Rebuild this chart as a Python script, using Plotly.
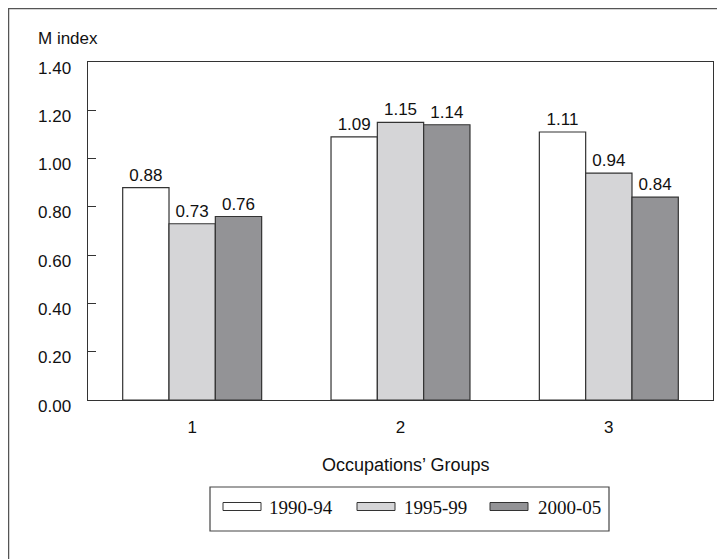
import plotly.graph_objects as go

categories = ["1", "2", "3"]
series_names = ["1990-94", "1995-99", "2000-05"]
values_1990_94 = [0.88, 1.09, 1.11]
values_1995_99 = [0.73, 1.15, 0.94]
values_2000_05 = [0.76, 1.14, 0.84]
y_ticks = [0.0, 0.2, 0.4, 0.6, 0.8, 1.0, 1.2, 1.4]
y_tick_labels = ["0.00", "0.20", "0.40", "0.60", "0.80", "1.00", "1.20", "1.40"]

series = [values_1990_94, values_1995_99, values_2000_05]
colors = ["#ffffff", "#d5d5d7", "#939396"]

OFF = 8  # page body margin
W, H = 725 - OFF, 559 - OFF
# plot area in screen coords: x 88..713, y 62..400
L, R, T, B = 88 - OFF, 725 - 713, 62 - OFF, 559 - 400
pw, ph = W - L - R, H - T - B

def px(x):
    return (x - OFF - L) / pw

def py(y):
    return (H - B - (y - OFF)) / ph

fig = go.Figure()
for name, vals, col in zip(series_names, series, colors):
    fig.add_trace(go.Bar(
        x=categories, y=vals, name=name,
        marker=dict(color=col, line=dict(color="#333333", width=1.2)),
        text=[f"{v:.2f}" for v in vals], textposition="outside",
        textfont=dict(family="Liberation Sans, Arial", size=17, color="#111111"),
        cliponaxis=False, showlegend=False,
    ))

shapes = []
annotations = []
# outer frame (partially visible)
shapes.append(dict(type="rect", xref="paper", yref="paper",
                   x0=px(8.5), x1=1.2, y0=-0.8, y1=py(8.5),
                   line=dict(color="#555555", width=1.5), layer="below"))
# legend box
shapes.append(dict(type="rect", xref="paper", yref="paper",
                   x0=px(210), x1=px(609), y0=py(531), y1=py(487),
                   line=dict(color="#444444", width=1.2)))
sw_x = [223, 357, 490]
tx_x = [267, 402, 536]
for i, name in enumerate(series_names):
    shapes.append(dict(type="rect", xref="paper", yref="paper",
                       x0=px(sw_x[i]), x1=px(sw_x[i] + 38), y0=py(510.5), y1=py(502.5),
                       fillcolor=colors[i], line=dict(color="#333333", width=1)))
    annotations.append(dict(xref="paper", yref="paper", x=px(tx_x[i]), y=py(507),
                            text=name, showarrow=False, xanchor="left", yanchor="middle",
                            font=dict(family="Liberation Serif, DejaVu Serif", size=19, color="#111111")))

# y tick labels (sit slightly below their ticks in the reference)
for v, lab in zip(y_ticks, y_tick_labels):
    annotations.append(dict(xref="paper", yref="y", x=0, y=v, xshift=-15, yshift=-6,
                            text=lab, showarrow=False, xanchor="right", yanchor="middle",
                            font=dict(family="Liberation Sans, Arial", size=17, color="#111111")))

annotations.append(dict(xref="paper", yref="paper", x=px(36), y=py(38),
                        text="M index", showarrow=False, xanchor="left", yanchor="middle",
                        font=dict(family="Liberation Sans, Arial", size=17, color="#111111")))
annotations.append(dict(xref="paper", yref="paper", x=px(405), y=py(465),
                        text="Occupations’ Groups", showarrow=False, xanchor="center", yanchor="middle",
                        font=dict(family="Liberation Sans, Arial", size=18, color="#111111")))

fig.update_layout(
    width=W, height=H,
    margin=dict(l=L, r=R, t=T, b=B),
    paper_bgcolor="white", plot_bgcolor="white",
    barmode="group", bargap=0.333, bargroupgap=0,
    shapes=shapes, annotations=annotations,
    showlegend=False,
    font=dict(family="Liberation Sans, Arial", size=17, color="#111111"),
)
fig.update_xaxes(
    type="category", range=[-0.5, 2.5],
    showline=True, linecolor="#333333", linewidth=1.2, mirror=True,
    ticks="", showgrid=False, ticklabelstandoff=11,
    tickfont=dict(size=17),
)
fig.update_yaxes(
    range=[0, 1.4], tickvals=y_ticks, showticklabels=False,
    showline=True, linecolor="#333333", linewidth=1.2, mirror=True,
    ticks="inside", ticklen=8, tickcolor="#333333", showgrid=False, zeroline=False,
)

fig.write_html("out.html")
